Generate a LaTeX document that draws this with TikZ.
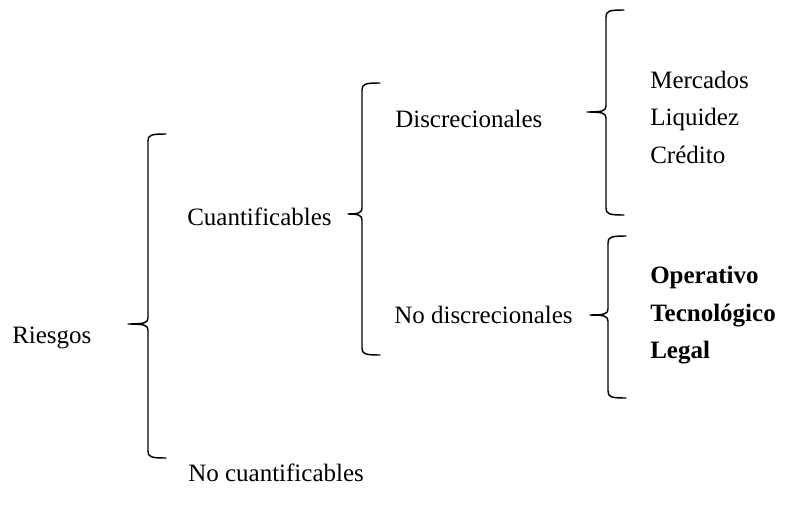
\documentclass[tikz,border=0pt]{standalone}
\usepackage{fontspec}
\setmainfont{Liberation Serif}
\usetikzlibrary{positioning}

% llave: x, arriba, medio, abajo, punta
\newcommand\llave[5]{%
  \draw[llavestyle] ({#1+18},#2) .. controls ({#1+3},#2) and (#1,{#2+1}) .. (#1,{#2+7})
    -- (#1,{#3-6}) .. controls (#1,{#3-1}) and ({#1-4},#3) .. ({#1-#5},#3)
    .. controls ({#1-4},#3) and (#1,{#3+1}) .. (#1,{#3+6})
    -- (#1,{#4-7}) .. controls (#1,{#4-1}) and ({#1+3},#4) .. ({#1+18},#4);}

\begin{document}
\begin{tikzpicture}[x=0.75pt,y=-0.75pt,
                    every node/.style={inner sep=0pt,anchor=base west,
                      font=\fontsize{18.75}{22}\selectfont},
                    llavestyle/.style={line width=1.1pt,line cap=round,line join=round}]
  \useasboundingbox (0,0) rectangle (788,514);

  \node (riesgos) at (12,343)  {Riesgos};
  \node (cuant)   at (187,225) {Cuantificables};
  \node (nocuant) at (188,481) {No cuantificables};
  \node (discr)   at (395,127) {Discrecionales};
  \node (nodiscr) at (394,323) {No discrecionales};

  \node (merc) at (650,88)  {Mercados};
  \node (liq)  at (650,125) {Liquidez};
  \node (cred) at (650,163) {Crédito};

  \node[font=\fontsize{18.75}{22}\selectfont\bfseries] (oper)  at (650,283) {Operativo};
  \node[font=\fontsize{18.75}{22}\selectfont\bfseries] (tecno) at (650,321) {Tecnológico};
  \node[font=\fontsize{18.75}{22}\selectfont\bfseries] (legal) at (650,358) {Legal};

  \llave{148}{134}{324}{458}{20}
  \llave{362}{83}{214}{355}{14}
  \llave{606}{10}{112}{215}{19}
  \llave{608}{236}{315}{398}{18}
\end{tikzpicture}
\end{document}
